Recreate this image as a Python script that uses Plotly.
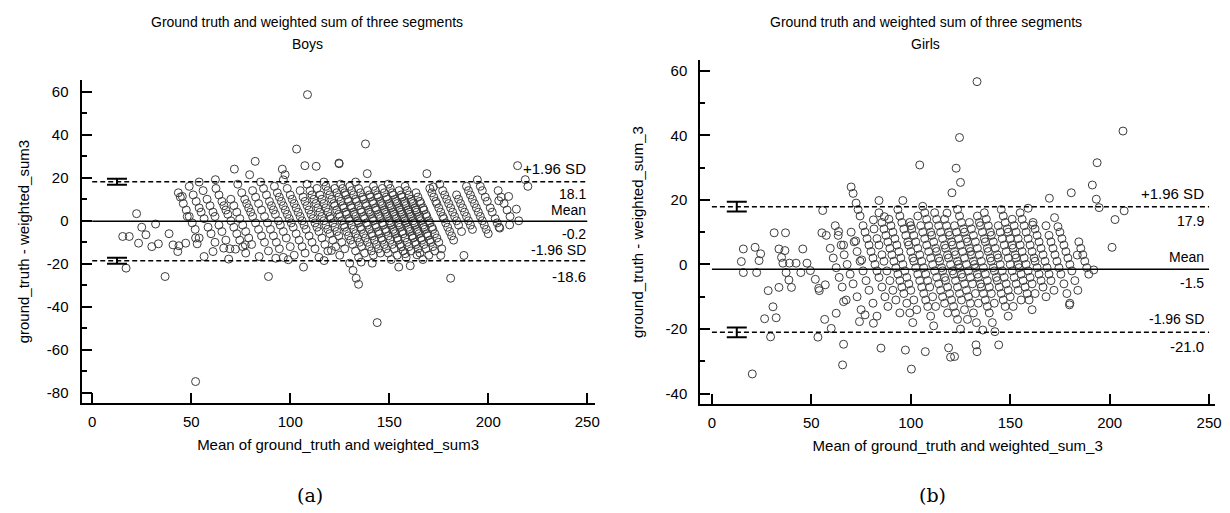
import plotly.graph_objects as go

W, H = 1230, 513

# ---------------- Boys ----------------
# Each stripe: one ground-truth value with the differences (ground_truth - weighted_sum3) observed for it
boys_stripe_gt = [50, 57, 63, 70, 75, 82, 88, 94, 100, 106, 112, 117, 121, 126, 130, 134,
                  138, 142, 146, 150, 154, 158, 162, 166, 170, 178, 184, 190, 197, 204, 212]
boys_stripe_diff = [
    [13, 11, 8, 5, 2, -1, -4, -8],
    [16, 12, 9, 6, 4, 1, -3, -6, -10],
    [18, 14, 10, 7, 4, 2, -2, -5, -9, -13],
    [15, 12, 9, 7, 5, 3, 0, -3, -6, -9, -12, -15],
    [10, 7, 4, 1, -2, -5, -8, -11],
    [17, 13, 10, 8, 6, 4, 2, -1, -4, -7, -10, -14],
    [14, 11, 8, 5, 2, -1, -4, -7, -10, -13, -17],
    [18, 15, 12, 9, 7, 5, 3, 0, -2, -5, -8, -12, -16],
    [16, 13, 11, 9, 7, 5, 3, 1, -1, -3, -6, -9, -12, -15],
    [19, 15, 12, 10, 8, 6, 4, 2, 0, -2, -4, -7, -10, -13, -17],
    [14, 11, 9, 7, 5, 3, 1, -1, -3, -5, -8, -11, -14],
    [17, 14, 12, 10, 8, 6, 4, 2, 0, -2, -4, -6, -9, -12, -16],
    [15, 12, 10, 8, 6, 4, 2, 1, -1, -3, -5, -7, -10, -13],
    [18, 16, 14, 12, 10, 8, 7, 5, 3, 2, 0, -2, -3, -5, -7, -9, -11, -14, -17],
    [15, 13, 11, 9, 7, 6, 4, 3, 1, 0, -2, -4, -6, -8, -10, -12, -15],
    [17, 15, 13, 12, 10, 9, 7, 6, 4, 3, 2, 0, -1, -3, -4, -6, -8, -10, -12, -14, -16],
    [16, 14, 12, 10, 9, 7, 5, 4, 2, 1, -1, -2, -4, -6, -7, -9, -11, -13, -15],
    [18, 15, 13, 11, 10, 8, 7, 5, 4, 3, 1, 0, -2, -3, -5, -6, -8, -9, -11, -13, -15, -18],
    [14, 12, 11, 9, 8, 6, 5, 3, 2, 1, -1, -2, -4, -5, -7, -9, -11, -13, -16],
    [16, 14, 12, 11, 9, 8, 7, 5, 4, 3, 2, 0, -1, -2, -4, -5, -6, -8, -9, -11, -12, -14, -17],
    [15, 13, 11, 10, 8, 7, 6, 4, 3, 2, 1, -1, -2, -3, -5, -6, -8, -10, -12, -14],
    [17, 15, 13, 12, 10, 9, 8, 6, 5, 4, 3, 1, 0, -1, -3, -4, -5, -7, -8, -10, -11, -13, -15, -18],
    [14, 12, 11, 9, 8, 7, 5, 4, 3, 2, 0, -1, -2, -4, -5, -6, -8, -9, -11, -13, -16],
    [16, 14, 12, 10, 9, 8, 6, 5, 4, 2, 1, 0, -2, -3, -4, -6, -7, -9, -10, -12, -14],
    [13, 11, 9, 8, 6, 5, 3, 2, 0, -1, -3, -4, -6, -8, -10, -13],
    [15, 13, 11, 9, 8, 6, 4, 2, 1, -1, -3, -5, -7, -9],
    [17, 14, 12, 10, 8, 6, 4, 2, 0, -2, -5],
    [12, 10, 8, 6, 4, 2, 0, -2, -4],
    [16, 14, 12, 10, 8, 6, 4, 2, 0, -2, -4, -6],
    [19, 16, 14, 11, 9, 6, 4, 1, -1, -3],
    [14, 11, 8, 5, 2],
]
# Remaining individual observations (mean, difference)
boys_other_mean = [15.4, 18.7, 23.4, 27.1, 30.1, 33.4, 38.8, 40.8, 43.2, 43.8, 47.2, 52.2, 53.0,
                   56.5, 61.0, 66.4, 68.9, 72.3, 77.3, 17.1, 36.8, 52.2, 84.3, 89.0, 92.7, 99.0,
                   106.7, 117.1, 120.8, 130.0, 131.7, 133.3, 134.5, 135.8, 141.4, 143.9, 154.8,
                   160.6, 181.0, 176.0, 187.7, 158.0, 164.0, 108.7, 103.2, 82.3, 71.8, 79.5, 96.0,
                   97.4, 107.4, 113.1, 124.6, 22.4, 62.2, 138.0, 124.7, 138.9, 169.0, 172.3, 214.8,
                   218.7, 220.0, 210.3, 205.3, 214.2, 215.4, 210.8, 205.8, 25.0, 32.0, 45.5, 48.0]
boys_other_diff = [-7.3, -7.3, -10.4, -6.5, -12.0, -10.7, -6.0, -11.2, -14.3, -11.6, -10.4, -8.0,
                   -10.7, -16.6, -14.3, -12.7, -17.8, -13.2, -11.2, -22.0, -25.9, -74.7, -16.6,
                   -25.9, -17.4, -18.1, -21.5, -18.5, -13.8, -19.7, -23.1, -26.7, -29.5, -19.2,
                   -19.7, -47.3, -21.5, -20.9, -26.7, -16.1, -16.1, -15.3, -15.8, 58.6, 33.3, 27.6,
                   24.0, 21.4, 24.0, 21.4, 25.6, 25.3, 26.8, 3.3, 19.1, 35.7, 26.5, 21.9, 21.9,
                   15.7, 25.6, 19.1, 16.0, 11.3, 9.3, 5.4, 0.0, -1.9, -3.4, -3.0, -1.5, 11.3, 2.0]
boys_mean_diff, boys_upper, boys_lower = -0.2, 18.1, -18.6
boys_ci_half = 1.4
boys_yticks = [-80, -60, -40, -20, 0, 20, 40, 60]

# ---------------- Girls ----------------
girls_stripe_gt = [62, 68, 75, 82, 87, 92, 96, 102, 106, 111, 115, 120, 124, 128, 132, 136,
                   141, 145, 150, 154, 158, 163, 168, 174, 180, 188]
girls_stripe_diff = [
    [9, 5, 2, -1, -4, -7, -11],
    [12, 9, 6, 3, 0, -3, -6, -10, -14],
    [10, 7, 4, 1, -2, -5, -8, -12, -16],
    [24, 22, 19, 17, 15, 12, 10, 8, 6, 4, 2, 0, -2, -4, -7, -10, -13],
    [11, 8, 6, 3, 1, -2, -5, -8, -11, -15],
    [16, 13, 11, 9, 7, 5, 3, 1, -1, -3, -5, -7, -9, -12, -15, -18],
    [14, 12, 10, 8, 6, 4, 2, 0, -2, -4, -6, -8, -11, -14],
    [17, 15, 13, 11, 9, 7, 6, 4, 2, 1, -1, -3, -5, -7, -9, -11, -13, -16, -19],
    [13, 11, 9, 7, 5, 3, 1, -1, -3, -5, -7, -10, -13],
    [15, 12, 10, 8, 6, 4, 2, 0, -2, -4, -6, -8, -10, -12, -15],
    [18, 16, 14, 12, 10, 9, 7, 5, 4, 2, 1, -1, -2, -4, -5, -7, -9, -11, -13, -15, -17, -20],
    [16, 14, 12, 10, 8, 6, 5, 3, 2, 0, -2, -3, -5, -7, -9, -11, -14, -17],
    [14, 12, 10, 9, 7, 6, 4, 3, 1, 0, -1, -3, -4, -6, -8, -10, -12, -15, -18],
    [12, 10, 8, 6, 4, 2, 0, -2, -4, -6, -9, -12],
    [17, 15, 13, 11, 10, 8, 7, 5, 4, 3, 1, 0, -1, -3, -4, -6, -7, -9, -11, -13, -15, -18],
    [13, 11, 9, 7, 5, 3, 1, -1, -3, -5, -7, -9, -12],
    [15, 13, 12, 10, 8, 7, 5, 4, 2, 1, -1, -2, -4, -5, -7, -9, -11, -13, -16],
    [16, 14, 12, 10, 9, 7, 5, 3, 2, 0, -2, -4, -6, -8, -10, -13],
    [12, 10, 8, 6, 4, 2, 0, -2, -4, -6, -8, -11],
    [17, 15, 13, 11, 10, 8, 6, 5, 3, 2, 0, -1, -3, -5, -7, -9, -11, -14],
    [14, 12, 10, 8, 6, 4, 2, 0, -2, -4, -6, -9],
    [16, 14, 12, 10, 8, 6, 4, 2, 1, -1, -3, -5, -7, -10],
    [13, 11, 9, 7, 5, 3, 1, -1, -3, -5, -8],
    [12, 9, 7, 5, 3, 1, -1, -3, -6, -9, -12],
    [10, 8, 6, 4, 2, 0, -2, -5, -8],
    [7, 5, 3, 1, -1, -3],
]
girls_other_mean = [15.8, 14.8, 15.8, 21.7, 24.5, 23.7, 22.5, 28.3, 30.7, 26.5, 32.3, 29.5, 20.3,
                    33.7, 35.0, 36.7, 35.7, 37.3, 38.7, 33.7, 40.0, 39.0, 42.3, 44.7, 45.7, 47.8,
                    49.5, 52.0, 54.0, 56.7, 53.3, 60.0, 66.2, 65.7, 55.3, 63.7, 31.3, 37.0, 85.0,
                    97.3, 100.3, 107.3, 119.0, 120.0, 136.2, 142.3, 132.8, 133.3, 144.2, 122.0,
                    124.5, 104.5, 122.8, 125.0, 120.7, 84.0, 96.0, 55.7, 81.2, 86.7, 100.0, 118.2,
                    133.3, 206.7, 193.7, 191.3, 193.3, 194.7, 180.7, 169.7, 172.3, 174.0, 202.7,
                    207.3, 161.3, 159.0, 201.2, 192.0, 183.7, 179.8, 53.7, 62.5, 57.0, 66.2, 74.2,
                    81.2, 77.0, 66.2, 72.3, 75.3]
girls_other_diff = [4.8, 0.9, -2.5, 5.3, 3.3, 1.2, -2.5, -8.1, -13.1, -16.8, -16.5, -22.4, -33.9,
                    4.8, 2.2, 4.3, 0.4, -2.5, -4.8, -7.1, -7.1, 0.4, 0.4, -2.5, 4.8, 0.4, -1.9,
                    -4.6, -8.1, -17.0, -22.5, -19.8, -24.7, -31.1, 9.8, 10.2, 9.8, 9.8, -25.9,
                    -26.5, -32.4, -27.0, -25.8, -28.7, -20.3, -20.8, -24.9, -27.0, -24.9, -28.5,
                    39.3, 30.8, 29.8, 25.4, 22.2, 19.8, 19.8, 16.7, 13.8, 14.8, 12.0, 15.9, 56.6,
                    41.3, 31.5, 24.6, 20.2, 17.6, 22.2, 20.5, 14.5, 11.7, 13.9, 16.6, 12.2, 17.4,
                    5.3, -1.7, 2.9, -12.5, -7.4, -15.1, -6.3, -11.5, -17.7, -18.2, -15.6, 6.0,
                    7.3, 1.4]
girls_mean_diff, girls_upper, girls_lower = -1.5, 17.9, -21.0
girls_ci_half = 1.5
girls_yticks = [-40, -20, 0, 20, 40, 60]

x_ticks = [0, 50, 100, 150, 200, 250]
LINE_X = [0, 250]
CI_X = 12.5
FONT = "Liberation Sans, Arial, sans-serif"


def bland_altman(stripe_gt, stripe_diff, other_mean, other_diff):
    """Mean of the two methods on x, their difference on y."""
    xs, ys = [], []
    for gt, diffs in zip(stripe_gt, stripe_diff):
        for d in diffs:
            ws = gt - d
            xs.append((gt + ws) / 2)
            ys.append(d)
    return xs + list(other_mean), ys + list(other_diff)


def fmt(v):
    # plain hyphen for negatives
    return ("-" if v < 0 else "") + str(abs(v))


fig = go.Figure()

panels = [
    dict(xa="x", ya="y",
         pts=bland_altman(boys_stripe_gt, boys_stripe_diff, boys_other_mean, boys_other_diff),
         mean=boys_mean_diff, up=boys_upper, lo=boys_lower, ci=boys_ci_half),
    dict(xa="x2", ya="y2",
         pts=bland_altman(girls_stripe_gt, girls_stripe_diff, girls_other_mean, girls_other_diff),
         mean=girls_mean_diff, up=girls_upper, lo=girls_lower, ci=girls_ci_half),
]

for p in panels:
    xs, ys = p["pts"]
    fig.add_trace(go.Scatter(
        x=xs, y=ys, mode="markers", xaxis=p["xa"], yaxis=p["ya"], showlegend=False,
        marker=dict(symbol="circle-open", size=8, color="#3c3c3c", line=dict(width=1)),
    ))
    # limits of agreement and mean difference
    for val, dash in [(p["up"], "5px,3px"), (p["mean"], "solid"), (p["lo"], "5px,3px")]:
        fig.add_trace(go.Scatter(
            x=LINE_X, y=[val, val], mode="lines", xaxis=p["xa"], yaxis=p["ya"],
            showlegend=False, line=dict(color="black", width=1.5, dash=dash),
        ))
    # confidence intervals of the limits
    fig.add_trace(go.Scatter(
        x=[CI_X, CI_X], y=[p["up"], p["lo"]], mode="markers", xaxis=p["xa"], yaxis=p["ya"],
        showlegend=False, marker=dict(size=1, color="rgba(0,0,0,0)"),
        error_y=dict(type="constant", value=p["ci"], color="black", thickness=2, width=10),
    ))


def px(x):
    return x / W


def py(y):
    return 1 - y / H


axis_common = dict(
    showline=True, linecolor="black", linewidth=2, mirror=False, showgrid=False, zeroline=False,
    ticks="inside", ticklen=10, tickwidth=1.5, tickcolor="black",
    tickfont=dict(family=FONT, size=15, color="black"),
    title_font=dict(family=FONT, size=15, color="black"),
)
minor_y = dict(dtick=10, tick0=0, ticks="inside", ticklen=5, tickwidth=1.5, tickcolor="black")

fig.update_layout(
    width=W, height=H, margin=dict(l=0, r=0, t=0, b=0),
    paper_bgcolor="white", plot_bgcolor="white",
    xaxis=dict(axis_common, domain=[px(82), px(598)], range=[-5.4, 253.7], anchor="y",
               tickvals=x_ticks, ticktext=[fmt(v) for v in x_ticks], ticklabelstandoff=4,
               title=dict(text="Mean of ground_truth and weighted_sum3", standoff=10)),
    yaxis=dict(axis_common, domain=[py(403.3), py(80)], range=[-84.8, 65.4], anchor="x",
               tickvals=boys_yticks, ticktext=[fmt(v) for v in boys_yticks], ticklabelstandoff=8,
               minor=minor_y,
               title=dict(text="ground_truth - weighted_sum3", standoff=14)),
    xaxis2=dict(axis_common, domain=[px(704.3), px(1222)], range=[-5.85, 253], anchor="y2",
                tickvals=x_ticks, ticktext=[fmt(v) for v in x_ticks], ticklabelstandoff=4,
                title=dict(text="Mean of ground_truth and weighted_sum_3", standoff=10)),
    yaxis2=dict(axis_common, domain=[py(404), py(60)], range=[-43.2, 63.3], anchor="x2",
                tickvals=girls_yticks, ticktext=[fmt(v) for v in girls_yticks], ticklabelstandoff=8,
                minor=minor_y,
                title=dict(text="ground_truth - weighted_sum_3", standoff=18)),
)

ann = []


def text(x, y, s, size=15, anchor="center", family=FONT):
    ann.append(dict(x=px(x), y=py(y), xref="paper", yref="paper", text=s, showarrow=False,
                    xanchor=anchor, yanchor="middle", borderpad=0,
                    font=dict(family=family, size=size, color="black")))


# panel titles
text(309, 22, "Ground truth and weighted sum of three segments", size=14)
text(309, 44, "Boys", size=14)
text(931, 22, "Ground truth and weighted sum of three segments", size=14)
text(931, 44, "Girls", size=14)

# labels at the right end of the reference lines
for (right, yv, up_t, mid_t, lo_t) in [
    (590, dict(up=(168, 194), mean=(210, 234), lo=(250, 276)), "18.1", "-0.2", "-18.6"),
    (1212, dict(up=(193, 221), mean=(257, 283), lo=(319, 346)), "17.9", "-1.5", "-21.0"),
]:
    text(right, yv["up"][0], "+1.96 SD", anchor="right")
    text(right, yv["up"][1], up_t, anchor="right", size=14)
    text(right, yv["mean"][0], "Mean", anchor="right", size=14)
    text(right, yv["mean"][1], mid_t, anchor="right", size=14)
    text(right, yv["lo"][0], "-1.96 SD", anchor="right", size=14)
    text(right, yv["lo"][1], lo_t, anchor="right")

# sub-figure captions
text(312, 495, "(a)", size=19, family="DejaVu Serif, serif")
text(938, 495, "(b)", size=19, family="DejaVu Serif, serif")

fig.update_layout(annotations=ann)
fig.write_html("out.html")
